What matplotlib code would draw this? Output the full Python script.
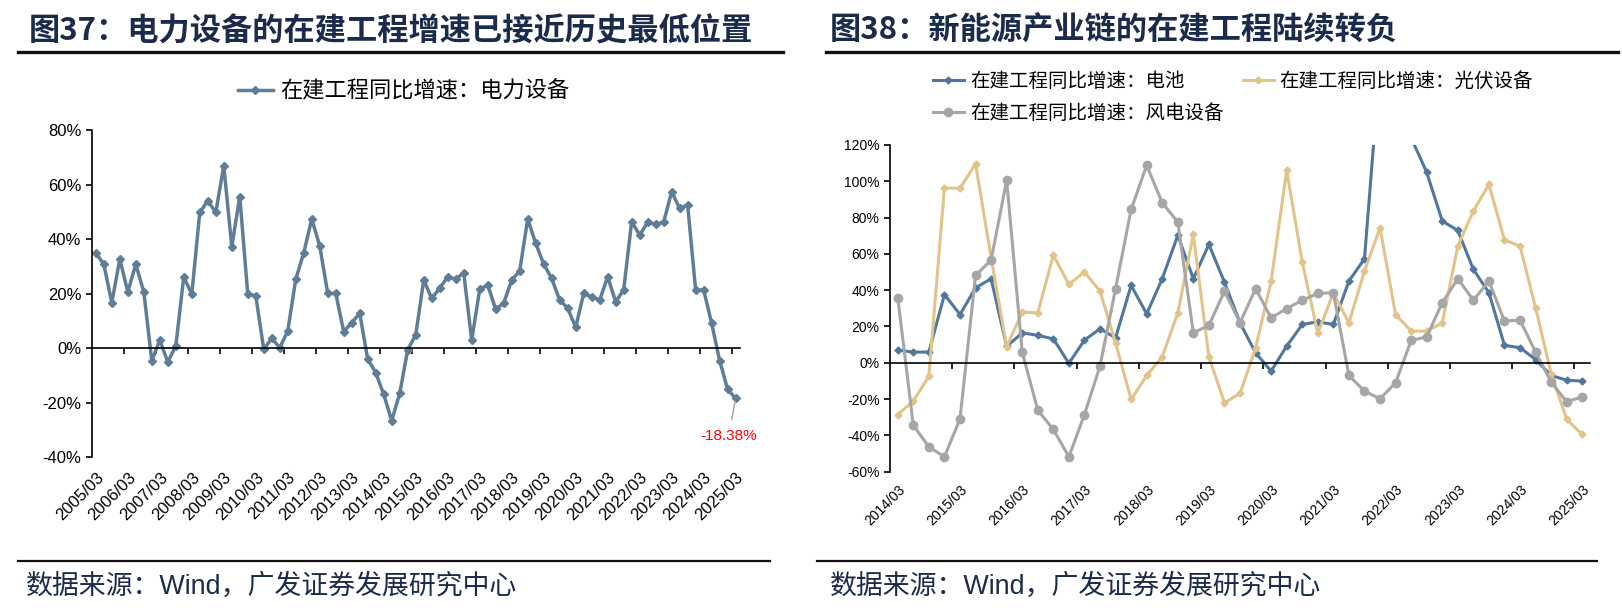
import numpy as np
import matplotlib
matplotlib.use("Agg")
import matplotlib.pyplot as plt
from matplotlib.lines import Line2D

plt.rcParams['font.family'] = ['Liberation Sans', 'Noto Sans CJK SC', 'DejaVu Sans']
plt.rcParams['axes.unicode_minus'] = False

CJK = ['Noto Sans CJK SC', 'DejaVu Sans']
NAVY = '#1b2b4b'

# 图37: 在建工程同比增速(%)，季度，2005/03 - 2025/03
power_equip = [35.0, 30.8, 16.7, 32.7, 20.7, 30.8, 20.7, -4.6, 3.0, -5.0,
               0.8, 26.2, 19.8, 49.8, 54.1, 49.8, 66.9, 37.2, 55.6, 19.8,
               19.3, -0.4, 3.7, 0.2, 6.3, 25.3, 35.0, 47.4, 37.5, 20.1,
               20.1, 6.1, 9.4, 12.8, -4.0, -8.9, -16.9, -26.5, -16.5, -0.5,
               4.9, 25.0, 18.3, 22.0, 26.2, 25.3, 27.7, 3.0, 21.6, 23.2,
               14.3, 16.5, 25.0, 28.4, 47.4, 38.5, 30.9, 25.6, 17.7, 14.7,
               7.7, 20.1, 18.9, 17.7, 26.2, 17.1, 21.4, 46.4, 41.5, 46.2,
               45.5, 46.2, 57.4, 51.3, 52.5, 21.4, 21.4, 9.2, -4.5, -15.0,
               -18.38]
left_labels = [f"{y}/03" for y in range(2005, 2026)]

# 图38: 季度，2014/03 - 2025/03
battery = [7.0, 5.9, 5.9, 37.6, 26.6, 41.3, 46.3, 9.0, 16.5, 15.1,
           13.2, -0.3, 12.5, 18.7, 13.8, 42.6, 27.0, 46.3, 70.2, 46.3,
           65.2, 44.4, 22.0, 5.5, -4.6, 9.2, 21.1, 22.6, 21.1, 45.0,
           57.3, 165.0, 150.0, 124.0, 104.9, 78.1, 72.9, 51.4, 38.6, 9.6,
           8.3, 1.8, -7.0, -9.6, -10.1]
solar = [-28.5, -21.1, -7.3, 96.4, 96.1, 109.6, 58.0, 8.8, 27.9, 27.5,
         59.3, 43.2, 50.0, 39.5, 11.0, -20.2, -7.0, 3.3, 27.5, 70.7,
         3.3, -22.0, -16.9, 8.0, 45.0, 106.0, 55.5, 16.2, 38.6, 22.0,
         50.5, 74.4, 26.6, 17.5, 17.4, 22.0, 64.3, 83.6, 98.3, 67.6,
         64.3, 30.3, -5.9, -31.2, -39.5]
wind = [35.8, -34.5, -46.3, -51.8, -30.9, 48.1, 56.6, 100.6, 5.9, -26.1,
        -36.7, -51.8, -28.5, -1.8, 40.8, 84.5, 108.7, 88.2, 77.5, 16.5,
        20.6, 39.5, 22.0, 40.8, 24.8, 29.8, 34.5, 38.2, 38.6, -7.0,
        -15.6, -19.8, -11.0, 12.3, 14.3, 33.1, 46.3, 34.5, 45.0, 23.0,
        23.5, 5.9, -10.7, -21.5, -18.7]
right_labels = [f"{y}/03" for y in range(2014, 2026)]


def style_axis(ax, n, ymin, ymax, labels, fs, pad):
    ax.set_xlim(-0.5, n - 0.5)
    ax.set_ylim(ymin, ymax)
    yt = np.arange(ymin, ymax + 1, 20)
    ax.set_yticks(yt)
    ax.set_yticklabels([f"{v}%" for v in yt], fontsize=fs)
    ax.spines[['top', 'right']].set_visible(False)
    ax.spines['bottom'].set_position(('data', 0))
    for s in ('left', 'bottom'):
        ax.spines[s].set_linewidth(1.2)
    # 刻度线在每4个季度的分界处
    ax.set_xticks(np.arange(3.5, n - 1, 4))
    ax.tick_params(axis='x', direction='out', length=4, width=1.2, labelbottom=False)
    ax.tick_params(axis='y', direction='out', length=4, width=1.2)
    sec = ax.secondary_xaxis('bottom')
    sec.set_xticks(np.arange(0, n, 4))
    sec.set_xticklabels(labels, fontsize=fs, rotation=45, ha='right',
                        rotation_mode='anchor')
    sec.tick_params(length=0, pad=pad)
    sec.spines['bottom'].set_visible(False)


fig = plt.figure(figsize=(16.22, 6.13), dpi=100)

# ---- 左图
ax1 = fig.add_axes([0.0566, 0.2537, 0.3994, 0.5342])
x1 = np.arange(len(power_equip))
ax1.plot(x1, power_equip, color='#607d98', lw=2.5, marker='D', ms=4.5,
         label='在建工程同比增速：电力设备')
style_axis(ax1, len(power_equip), -40, 80, left_labels, 12, 9)
ax1.legend(loc='center', bbox_to_anchor=(0.481, 1.119), frameon=False,
           prop={'family': CJK, 'size': 16}, handlelength=1.6, handletextpad=0.3)
ax1.annotate(f"{power_equip[-1]:.2f}%", xy=(x1[-1], power_equip[-1]),
             xytext=(-5, -27), textcoords='offset points', ha='center', va='center',
             color='red', fontsize=11,
             arrowprops=dict(arrowstyle='-', color='#a0a0a0', lw=1, shrinkA=5, shrinkB=2))

# ---- 右图
ax2 = fig.add_axes([0.5487, 0.2305, 0.4316, 0.5330])
x2 = np.arange(len(battery))
h_bat, = ax2.plot(x2, battery, color='#52779c', lw=2.2, marker='D', ms=3.5,
                  label='在建工程同比增速：电池')
h_sol, = ax2.plot(x2, solar, color='#e2c48b', lw=2.2, marker='D', ms=3.5,
                  label='在建工程同比增速：光伏设备')
h_wind, = ax2.plot(x2, wind, color='#a6a6a6', lw=2.2, marker='o', ms=6,
                   label='在建工程同比增速：风电设备')
style_axis(ax2, len(battery), -60, 120, right_labels, 10, 8)
ax2.legend(handles=[h_bat, h_wind, h_sol], ncol=2, loc='center',
           bbox_to_anchor=(0.49, 1.145), frameon=False,
           prop={'family': CJK, 'size': 14}, handlelength=1.6,
           handletextpad=0.3, columnspacing=1.0, labelspacing=0.55)

# ---- 标题与来源
fig.text(29 / 1622, 1 - 31 / 613, '图37：电力设备的在建工程增速已接近历史最低位置',
         family=CJK, fontsize=22.5, fontweight='bold', color=NAVY, va='center')
fig.text(830 / 1622, 1 - 31 / 613, '图38：新能源产业链的在建工程陆续转负',
         family=CJK, fontsize=22.5, fontweight='bold', color=NAVY, va='center')
for x0, x1_ in [(18, 783), (826, 1618)]:
    fig.add_artist(Line2D([x0 / 1622, x1_ / 1622], [1 - 52 / 613] * 2,
                          color='#111111', lw=2.4))
for x0, x1_ in [(18, 770), (817, 1597)]:
    fig.add_artist(Line2D([x0 / 1622, x1_ / 1622], [1 - 561 / 613] * 2,
                          color='#111111', lw=1.6))
for xs in (26, 830):
    fig.text(xs / 1622, 1 - 587 / 613, '数据来源：Wind，广发证券发展研究中心',
             family=['Liberation Sans', 'Noto Sans CJK SC'], fontsize=19.4,
             color=NAVY, va='center')

fig.savefig('out.png', dpi=100)
